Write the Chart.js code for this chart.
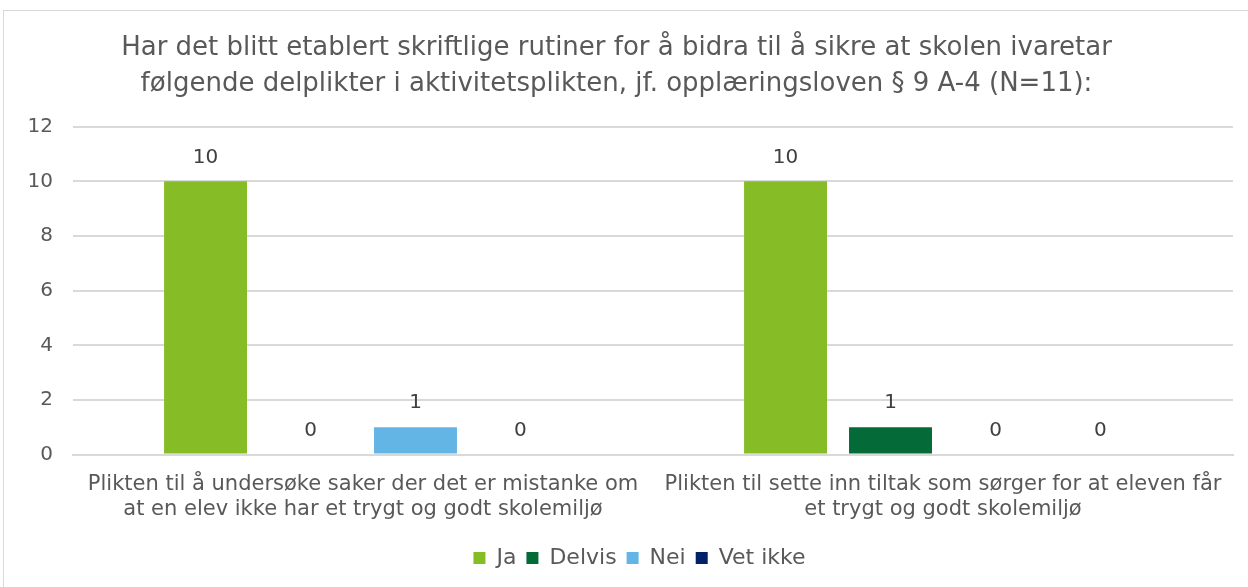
<!DOCTYPE html>
<html>
<head>
<meta charset="utf-8">
<script src="https://cdn.jsdelivr.net/npm/chart.js@4"></script>
<style>
  body { margin: 0; background: #fff; }
  #frame { position: absolute; left: 3px; top: 10px; width: 1260px; height: 600px; border: 1px solid #d9d9d9; }
  #wrap { position: absolute; left: 0; top: 0; width: 1248px; height: 587px; }
</style>
</head>
<body>
<div id="frame"></div>
<div id="wrap"><canvas id="chart"></canvas></div>
<script>
var categories = [
  ["Plikten til å undersøke saker der det er mistanke om", "at en elev ikke har et trygt og godt skolemiljø"],
  ["Plikten til sette inn tiltak som sørger for at eleven får", "et trygt og godt skolemiljø"]
];
var seriesNames = ["Ja", "Delvis", "Nei", "Vet ikke"];
var ja = [10, 10];
var delvis = [0, 1];
var nei = [1, 0];
var vetIkke = [0, 0];
var colors = ["#86bc25", "#046a38", "#62b5e5", "#012169"];

var font = "'DejaVu Sans', Verdana, sans-serif";

// skriver verdiene over søylene
var valueLabels = {
  id: 'valueLabels',
  afterDatasetsDraw: function (chart) {
    var ctx = chart.ctx;
    ctx.save();
    ctx.font = "20px " + font;
    ctx.fillStyle = "#404040";
    ctx.textAlign = "center";
    ctx.textBaseline = "middle";
    chart.data.datasets.forEach(function (ds, i) {
      chart.getDatasetMeta(i).data.forEach(function (bar, j) {
        ctx.fillText(ds.data[j], bar.x, bar.y - 24);
      });
    });
    ctx.restore();
  }
};

// legenden står litt til høyre for midten, under plottet
var shiftLegend = {
  id: 'shiftLegend',
  afterLayout: function (chart) {
    chart.legend.left += 23;
    chart.legend.right += 23;
  }
};

var ctx = document.getElementById('chart').getContext('2d');
var myChart = new Chart(ctx, {
  type: 'bar',
  data: {
    labels: categories,
    datasets: [
      { label: seriesNames[0], data: ja, backgroundColor: colors[0] },
      { label: seriesNames[1], data: delvis, backgroundColor: colors[1] },
      { label: seriesNames[2], data: nei, backgroundColor: colors[2] },
      { label: seriesNames[3], data: vetIkke, backgroundColor: colors[3] }
    ]
  },
  options: {
    responsive: true,
    maintainAspectRatio: false,
    animation: false,
    layout: { padding: { left: 0, right: 15, top: 0, bottom: 8 } },
    datasets: { bar: { categoryPercentage: 0.724, barPercentage: 0.79 } },
    plugins: {
      title: {
        display: true,
        text: ["Har det blitt etablert skriftlige rutiner for å bidra til å sikre at skolen ivaretar",
               "følgende delplikter i aktivitetsplikten, jf. opplæringsloven § 9 A-4 (N=11):"],
        font: { family: font, size: 26, weight: 'normal', lineHeight: 1.36 },
        color: "#595959",
        padding: { top: 31, bottom: 25 }
      },
      legend: {
        position: 'bottom',
        labels: {
          font: { family: font, size: 22 },
          color: "#595959",
          boxWidth: 12,
          boxHeight: 12,
          padding: 10
        }
      },
      tooltip: { enabled: false }
    },
    scales: {
      x: {
        afterFit: function (scale) { scale.height += 6; },
        grid: { display: false },
        border: { color: "#d9d9d9", width: 2 },
        ticks: { font: { family: font, size: 21, lineHeight: 1.2 }, color: "#595959", maxRotation: 0, padding: 9 }
      },
      y: {
        min: 0,
        max: 12,
        afterFit: function (scale) { scale.width = 73; },
        ticks: { stepSize: 2, font: { family: font, size: 20 }, color: "#595959", padding: 20 },
        grid: { color: "#d9d9d9", lineWidth: 2, drawTicks: false },
        border: { display: false }
      }
    }
  },
  plugins: [valueLabels, shiftLegend]
});
</script>
</body>
</html>
